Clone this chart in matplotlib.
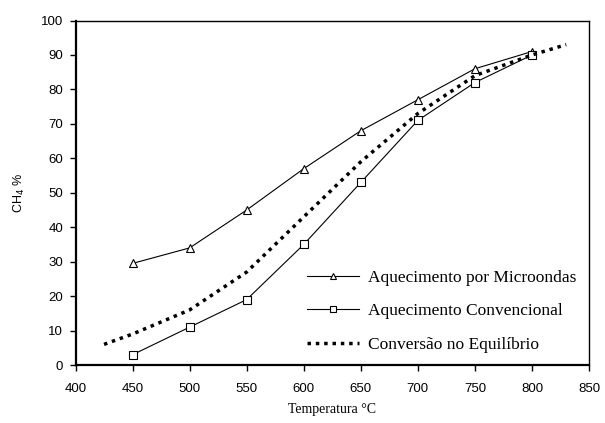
import numpy as np
import matplotlib.pyplot as plt

# Data
temp = [450, 500, 550, 600, 650, 700, 750, 800]
micro = [29.5, 34, 45, 57, 68, 77, 86, 91]
conv = [3, 11, 19, 35, 53, 71, 82, 90]

eq_temp = [425, 450, 500, 550, 600, 650, 700, 750, 800, 830]
eq_conv = [6, 9, 16, 27, 43, 59, 73, 84, 90, 93]

fig = plt.figure(figsize=(6.05, 4.23), dpi=100)
ax = fig.add_axes([0.1248, 0.137, 0.8488, 0.8145])

ax.plot(temp, micro, '-', color='black', lw=0.8, marker='^', ms=6,
        mfc='white', mec='black', mew=0.8, label='Aquecimento por Microondas')
ax.plot(temp, conv, '-', color='black', lw=0.8, marker='s', ms=6,
        mfc='white', mec='black', mew=0.8, label='Aquecimento Convencional')
ax.plot(eq_temp, eq_conv, linestyle=(0, (1, 1.4)), color='black', lw=2.5,
        label='Conversão no Equilíbrio')

ax.set_xlim(400, 850)
ax.set_ylim(0, 100)
ax.set_xticks(np.arange(400, 851, 50))
ax.set_yticks(np.arange(0, 101, 10))

for s in ax.spines.values():
    s.set_linewidth(1.0)
ax.spines['left'].set_linewidth(1.6)
ax.spines['bottom'].set_linewidth(1.6)
ax.tick_params(direction='out', length=4, width=1, labelsize=9.5)
ax.tick_params(axis='x', pad=9)
ax.tick_params(axis='y', pad=5)
for lab in ax.get_xticklabels() + ax.get_yticklabels():
    lab.set_fontfamily('Liberation Sans')

ax.set_xlabel('Temperatura °C', fontfamily='Liberation Serif', fontsize=10, labelpad=6)
ax.set_ylabel('CH$_4$ %', fontfamily='Liberation Sans', fontsize=9, labelpad=10)

leg = ax.legend(loc='lower right', frameon=False, handlelength=3.0,
                handletextpad=0.5,
                prop={'family': 'Liberation Serif', 'size': 12.5},
                labelspacing=1.0, bbox_to_anchor=(1.005, -0.01), markerscale=0.75)

plt.savefig('out.png', dpi=100)
